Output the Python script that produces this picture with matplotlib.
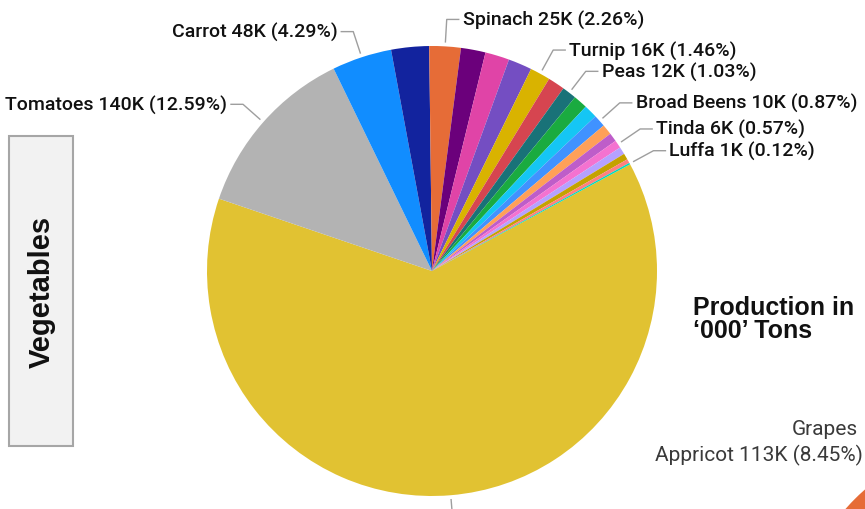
import numpy as np
import matplotlib.pyplot as plt
from matplotlib.patches import Rectangle, Circle

# slice data, clockwise from the big unlabelled slice ('000 tons)
names = ["", "Tomatoes", "Carrot", "", "Spinach", "", "", "", "Turnip", "",
         "Peas", "", "", "Broad Beens", "", "", "Tinda", "", "", "", "Luffa"]
values_k = [701.4, 140.0, 47.7, 30.2, 25.1, 19.6, 19.3, 18.9, 16.2, 13.5,
            11.5, 11.2, 10.8, 9.7, 8.3, 7.0, 6.3, 5.9, 5.0, 3.2, 1.3]
colors = ["#E1C232", "#B3B3B3", "#118DFF", "#12239E", "#E66C37", "#6B007B",
          "#E044A7", "#744EC2", "#D9B300", "#D64550", "#197278", "#1AAB40",
          "#15C6F4", "#4092FF", "#FFA058", "#BE5DC9", "#F472D0", "#B5A1FF",
          "#C4A200", "#FF8080", "#00DBBC"]
stub_only = [0]  # label sits outside the visible area, only its leader shows

fruit_labels = ["Grapes", "Appricot 113K (8.45%)"]
box_title = "Vegetables"
unit_note = "Production in\n\u2018000\u2019 Tons"

# layout (pixel-like units, y up)
W, H = 865, 510
CX, CY, R = 432, 238, 225
START = 28.3
LEAD = "#9E9E9E"
TXT = "#111111"

fig = plt.figure(figsize=(W / 100, H / 100), dpi=100)
ax = fig.add_axes([0, 0, 1, 1])

wedges, _ = ax.pie(values_k, colors=colors, startangle=START, counterclock=False,
                   center=(CX, CY), radius=R, wedgeprops=dict(linewidth=0))

total = sum(values_k)
for i, w in enumerate(wedges):
    if not names[i] and i not in stub_only:
        continue
    a = np.deg2rad((w.theta1 + w.theta2) / 2)
    c, s = np.cos(a), np.sin(a)
    x0, y0 = CX + 1.02 * R * c, CY + 1.02 * R * s
    x1, y1 = CX + 1.12 * R * c, CY + 1.12 * R * s
    if i in stub_only:
        x1, y1 = CX + 1.3 * R * c, CY + 1.3 * R * s
        ax.plot([x0, x1], [y0, y1], color=LEAD, lw=1)
        continue
    d = 1 if c >= 0 else -1
    x2 = x1 + d * 12
    ax.plot([x0, x1, x2], [y0, y1, y1], color=LEAD, lw=1)
    pct = values_k[i] / total * 100
    label = f"{names[i]} {values_k[i]:.0f}K ({pct:.2f}%)"
    ax.text(x2 + d * 4, y1, label, ha="left" if d > 0 else "right", va="center",
            fontsize=14, family="Roboto", fontweight="medium", color=TXT)

# category box on the left
ax.add_patch(Rectangle((9, 63), 64, 310, facecolor="#F2F2F2",
                       edgecolor="#A6A6A6", lw=1.5))
ax.text(42, 218, box_title, rotation=90, ha="center", va="center",
        fontsize=21, fontweight="bold", family="Liberation Sans", color="#111111")

# unit note and the cut-off fruit chart on the right
ax.text(693, 214, unit_note, ha="left", va="top", fontsize=18, fontweight="bold",
        family="Liberation Sans", color="#111111", linespacing=0.95)
ax.text(858, 80, fruit_labels[0], ha="right", va="center", fontsize=15,
        family="Roboto", color="#3A3A3A")
ax.text(655, 55, fruit_labels[1], ha="left", va="center", fontsize=15,
        family="Roboto", color="#3A3A3A")
ax.add_patch(Circle((1014, -149), R, facecolor="#E66C37", lw=0))

ax.set_xlim(0, W)
ax.set_ylim(0, H)
ax.set_aspect("equal")
ax.axis("off")

fig.savefig("out.png", dpi=100)
